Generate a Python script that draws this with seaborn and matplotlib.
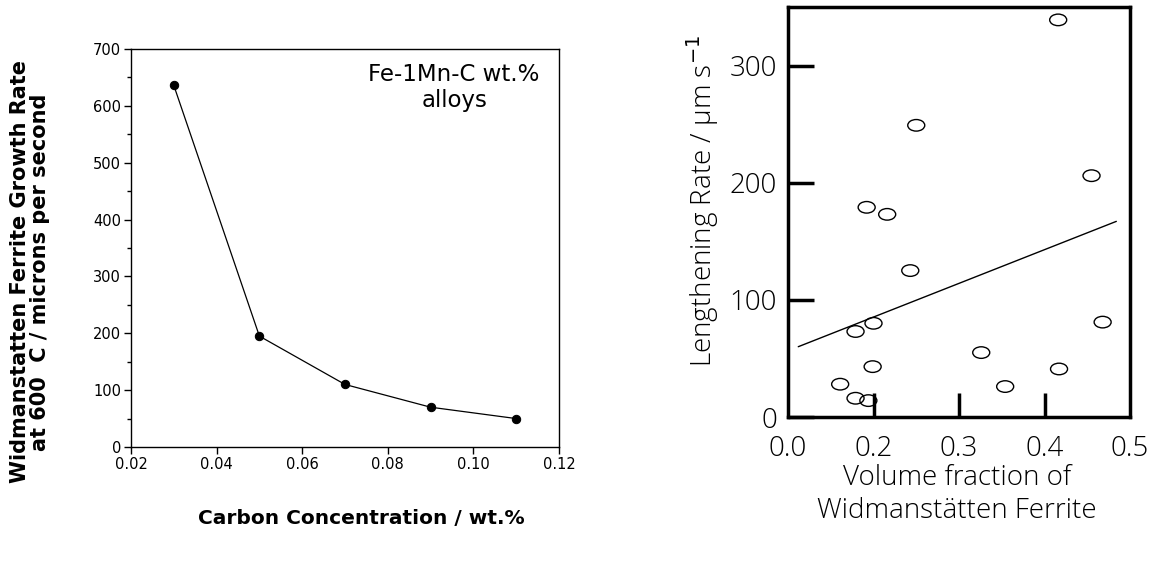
import numpy as np
import pandas as pd
import matplotlib
matplotlib.use("Agg")
import matplotlib.pyplot as plt
from matplotlib.path import Path
from matplotlib.ticker import MultipleLocator, FixedLocator, FixedFormatter, NullFormatter
import seaborn as sns

# ---- data: left panel ----
carbon_wt = [0.03, 0.05, 0.07, 0.09, 0.11]
growth_rate = [636, 195, 110, 70, 50]

# ---- data: right panel ----
vol_fraction = [0.416, 0.250, 0.455, 0.192, 0.216, 0.243, 0.468, 0.200,
                0.179, 0.326, 0.199, 0.417, 0.161, 0.354, 0.179, 0.194]
lengthening_rate = [339, 249, 206, 179, 173, 125, 81, 80,
                    73, 55, 43, 41, 28, 26, 16, 14]
fit_x = [0.112, 0.484]
fit_y = [60, 167]

right_xtick_marks = [0.2, 0.3, 0.4]
right_xlabel_pos = [0.1, 0.2, 0.3, 0.4, 0.5]
right_xticklabels = ["0.0", "0.2", "0.3", "0.4", "0.5"]
right_yticks = [0, 100, 200, 300]

sns.set_theme(style="white")
plt.rcParams["font.family"] = ["DejaVu Sans"]
for k in ["text.color", "axes.labelcolor", "xtick.color", "ytick.color"]:
    plt.rcParams[k] = "black"

fig = plt.figure(figsize=(11.63, 5.85), dpi=100)

# ---------------- left panel ----------------
ax1 = fig.add_axes([131/1163, 1 - 447/585, 428/1163, 398/585])
df1 = pd.DataFrame({"c": carbon_wt, "r": growth_rate})
sns.lineplot(data=df1, x="c", y="r", ax=ax1, color="black", linewidth=0.9,
             marker="o", markersize=6, markeredgecolor="black",
             markerfacecolor="black")
ax1.set_xlim(0.02, 0.12)
ax1.set_ylim(0, 700)
ax1.xaxis.set_major_locator(MultipleLocator(0.02))
ax1.yaxis.set_major_locator(MultipleLocator(100))
ax1.yaxis.set_minor_locator(MultipleLocator(50))
ax1.set_xticklabels([f"{v:.2f}" for v in ax1.get_xticks()])
for s in ax1.spines.values():
    s.set_color("black")
    s.set_linewidth(1.0)
ax1.tick_params(axis="both", which="major", direction="out", length=5,
                width=1, color="black", labelsize=10.5, pad=2)
ax1.tick_params(axis="y", which="minor", direction="out", length=3,
                width=1, color="black", left=True)
ax1.tick_params(left=True, bottom=True)
ax1.set_xlabel("Carbon Concentration / wt.%", fontsize=14.5, fontweight="bold")
ax1.xaxis.set_label_coords(0.537, -0.155)
ax1.set_ylabel("Widmanstatten Ferrite Growth Rate\nat 600  C / microns per second",
               fontsize=15, fontweight="bold", linespacing=1.0)
ax1.yaxis.set_label_coords(-0.19, 0.44)
ax1.text(0.755, 0.965, "Fe-1Mn-C wt.%\nalloys", transform=ax1.transAxes,
         ha="center", va="top", fontsize=16.5, linespacing=1.15)

# ---------------- right panel ----------------
ax2 = fig.add_axes([788/1163, 1 - 417/585, 342/1163, 410/585])
uc = Path.unit_circle()
ellipse = Path(uc.vertices * np.array([1.0, 0.68]), uc.codes)
df2 = pd.DataFrame({"v": vol_fraction, "l": lengthening_rate})
sns.scatterplot(data=df2, x="v", y="l", ax=ax2, marker=ellipse, s=150,
                facecolor="none", edgecolor="black", linewidth=1.0, zorder=3)
df3 = pd.DataFrame({"x": fit_x, "y": fit_y})
sns.lineplot(data=df3, x="x", y="y", ax=ax2, color="black", linewidth=1.0)
ax2.set_xlim(0.1, 0.5)
ax2.set_ylim(0, 350)
ax2.xaxis.remove_overlapping_locs = False
ax2.xaxis.set_major_locator(FixedLocator(right_xtick_marks))
ax2.xaxis.set_major_formatter(NullFormatter())
ax2.xaxis.set_minor_locator(FixedLocator(right_xlabel_pos))
ax2.xaxis.set_minor_formatter(FixedFormatter(right_xticklabels))
ax2.yaxis.set_major_locator(FixedLocator(right_yticks))
ax2.set_yticklabels([str(v) for v in right_yticks])
for s in ax2.spines.values():
    s.set_color("black")
    s.set_linewidth(2.5)
ax2.tick_params(axis="both", which="major", direction="in", width=2.5,
                color="black", labelsize=20, left=True, bottom=True)
ax2.tick_params(axis="y", length=19, pad=8)
ax2.tick_params(axis="x", which="major", length=17)
ax2.tick_params(axis="x", which="minor", length=0, bottom=True, pad=13,
                labelsize=20)
rfont = ["Open Sans", "DejaVu Sans"]
for lab in (ax2.get_xticklabels(minor=True) + ax2.get_yticklabels()):
    lab.set_family(rfont)
    lab.set_fontweight("light")
ax2.set_xlabel("Volume fraction of\nWidmanstätten Ferrite", fontsize=20,
               fontweight="light", family=rfont, linespacing=1.22)
ax2.xaxis.set_label_coords(0.494, -0.115)
ax2.set_ylabel("Lengthening Rate / μm s$^{-1}$", fontsize=20,
               fontweight="light", family=rfont)
ax2.yaxis.set_label_coords(-0.195, 0.527)

fig.savefig("out.png", dpi=100)
